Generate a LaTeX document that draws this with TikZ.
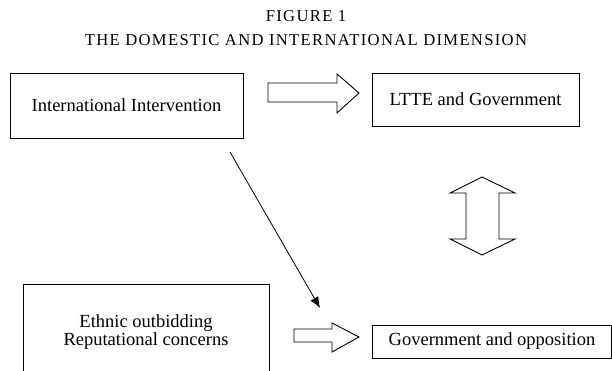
\documentclass[tikz,border=0pt]{standalone}
\usepackage{fontspec}
\setmainfont{Liberation Serif}
\newfontfamily\titlefont[LetterSpace=8]{Liberation Serif}
\usetikzlibrary{arrows.meta}
\begin{document}
\begin{tikzpicture}[x=1pt,y=-1pt,
  box/.style={draw,line width=0.9pt,inner sep=0pt,align=center,font=\fontsize{18.5}{17.5}\selectfont},
  blk/.style={draw,line width=0.9pt,line join=miter},
  conn/.style={line width=0.8pt,-{Latex[length=11pt,width=9pt]}}]
\useasboundingbox (0,0) rectangle (612,371);
\node[font=\titlefont\fontsize{16.6}{17}\selectfont] (t1) at (306,16) {FIGURE 1};
\node[font=\titlefont\fontsize{16.6}{17}\selectfont] (t2) at (306,40) {THE DOMESTIC AND INTERNATIONAL DIMENSION};
\node[box,minimum width=233pt,minimum height=65pt] (b1) at (126.5,105.5) {International Intervention};
\node[box,minimum width=207pt,minimum height=53pt] (b2) at (475.5,99.5) {LTTE and Government};
\node[box,minimum width=246pt,minimum height=96pt] (b3) at (146,332) {Ethnic outbidding\\Reputational concerns};
\node[box,minimum width=239pt,minimum height=33pt] (b4) at (492,341.5) {Government and opposition};
% block arrow top
\draw[blk] (268,83) -- (337,83) -- (337,74) -- (359,93) -- (337,113) -- (337,102) -- (268,102) -- cycle;
% block arrow bottom
\draw[blk] (294,329) -- (332,329) -- (332,323) -- (359,337) -- (332,352) -- (332,342) -- (294,342) -- cycle;
% double arrow
\draw[blk] (482,177) -- (515,193) -- (499,193) -- (499,239) -- (515,239) -- (482,255) -- (450,239) -- (466,239) -- (466,193) -- (450,193) -- cycle;
\coordinate (s) at (230,152);
\coordinate (e) at (320,308);
\draw[conn] (s) -- (e);
\end{tikzpicture}
\end{document}
